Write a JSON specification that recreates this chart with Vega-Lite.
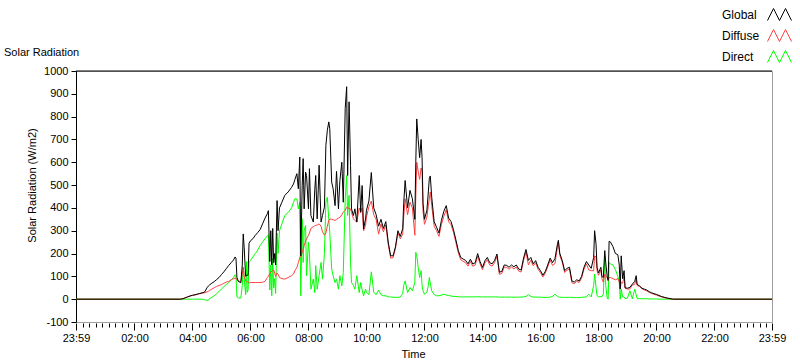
{
"$schema":"https://vega.github.io/schema/vega-lite/v6.json",
"width":696,"height":251,
"autosize":{"type":"none"},
"padding":{"left":76,"top":71,"right":28,"bottom":39},
"background":"white",
"title":{"text":"Solar Radiation","anchor":"start","frame":"group","dx":-72,"dy":56,"offset":0,"font":"Liberation Sans","fontSize":11,"fontWeight":"normal","color":"black"},
"data":{"values":[
{"t":"2020-01-01T23:59:00Z","Global":0,"Diffuse":0,"Direct":0},
{"t":"2020-01-02T03:35:00Z","Global":0,"Diffuse":0,"Direct":0},
{"t":"2020-01-02T03:40:00Z","Global":2,"Diffuse":2,"Direct":0},
{"t":"2020-01-02T03:45:00Z","Global":6,"Diffuse":6,"Direct":0},
{"t":"2020-01-02T03:50:00Z","Global":10,"Diffuse":10,"Direct":0},
{"t":"2020-01-02T03:55:00Z","Global":14,"Diffuse":14,"Direct":0},
{"t":"2020-01-02T04:00:00Z","Global":17,"Diffuse":17,"Direct":0},
{"t":"2020-01-02T04:05:00Z","Global":19,"Diffuse":19,"Direct":0},
{"t":"2020-01-02T04:10:00Z","Global":22,"Diffuse":22,"Direct":0},
{"t":"2020-01-02T04:15:00Z","Global":25,"Diffuse":24,"Direct":0},
{"t":"2020-01-02T04:20:00Z","Global":28,"Diffuse":26,"Direct":0},
{"t":"2020-01-02T04:25:00Z","Global":31,"Diffuse":28,"Direct":-2},
{"t":"2020-01-02T04:30:00Z","Global":50,"Diffuse":32,"Direct":-5},
{"t":"2020-01-02T04:33:00Z","Global":58,"Diffuse":35,"Direct":-4},
{"t":"2020-01-02T04:35:00Z","Global":62,"Diffuse":38,"Direct":2},
{"t":"2020-01-02T04:40:00Z","Global":70,"Diffuse":44,"Direct":8},
{"t":"2020-01-02T04:45:00Z","Global":77,"Diffuse":50,"Direct":15},
{"t":"2020-01-02T04:50:00Z","Global":86,"Diffuse":56,"Direct":24},
{"t":"2020-01-02T04:55:00Z","Global":95,"Diffuse":60,"Direct":34},
{"t":"2020-01-02T05:00:00Z","Global":108,"Diffuse":64,"Direct":45},
{"t":"2020-01-02T05:05:00Z","Global":120,"Diffuse":70,"Direct":55},
{"t":"2020-01-02T05:10:00Z","Global":134,"Diffuse":75,"Direct":64},
{"t":"2020-01-02T05:15:00Z","Global":148,"Diffuse":78,"Direct":72},
{"t":"2020-01-02T05:20:00Z","Global":160,"Diffuse":85,"Direct":84},
{"t":"2020-01-02T05:25:00Z","Global":172,"Diffuse":90,"Direct":95},
{"t":"2020-01-02T05:28:00Z","Global":185,"Diffuse":92,"Direct":107},
{"t":"2020-01-02T05:30:00Z","Global":180,"Diffuse":92,"Direct":100},
{"t":"2020-01-02T05:32:00Z","Global":95,"Diffuse":85,"Direct":10},
{"t":"2020-01-02T05:35:00Z","Global":78,"Diffuse":80,"Direct":5},
{"t":"2020-01-02T05:40:00Z","Global":72,"Diffuse":76,"Direct":5},
{"t":"2020-01-02T05:43:00Z","Global":150,"Diffuse":110,"Direct":60},
{"t":"2020-01-02T05:45:00Z","Global":286,"Diffuse":140,"Direct":140},
{"t":"2020-01-02T05:47:00Z","Global":225,"Diffuse":100,"Direct":90},
{"t":"2020-01-02T05:50:00Z","Global":100,"Diffuse":80,"Direct":20},
{"t":"2020-01-02T05:52:00Z","Global":105,"Diffuse":77,"Direct":165},
{"t":"2020-01-02T05:53:00Z","Global":105,"Diffuse":76,"Direct":30},
{"t":"2020-01-02T05:55:00Z","Global":105,"Diffuse":75,"Direct":40},
{"t":"2020-01-02T05:57:00Z","Global":245,"Diffuse":74,"Direct":160},
{"t":"2020-01-02T06:00:00Z","Global":256,"Diffuse":73,"Direct":170},
{"t":"2020-01-02T06:05:00Z","Global":265,"Diffuse":73,"Direct":185},
{"t":"2020-01-02T06:10:00Z","Global":280,"Diffuse":73,"Direct":200},
{"t":"2020-01-02T06:15:00Z","Global":292,"Diffuse":73,"Direct":215},
{"t":"2020-01-02T06:20:00Z","Global":305,"Diffuse":73,"Direct":235},
{"t":"2020-01-02T06:25:00Z","Global":330,"Diffuse":74,"Direct":250},
{"t":"2020-01-02T06:30:00Z","Global":355,"Diffuse":78,"Direct":265},
{"t":"2020-01-02T06:35:00Z","Global":375,"Diffuse":95,"Direct":278},
{"t":"2020-01-02T06:37:00Z","Global":388,"Diffuse":100,"Direct":282},
{"t":"2020-01-02T06:40:00Z","Global":165,"Diffuse":113,"Direct":40},
{"t":"2020-01-02T06:42:00Z","Global":300,"Diffuse":118,"Direct":150},
{"t":"2020-01-02T06:44:00Z","Global":150,"Diffuse":122,"Direct":15},
{"t":"2020-01-02T06:46:00Z","Global":310,"Diffuse":125,"Direct":180},
{"t":"2020-01-02T06:48:00Z","Global":160,"Diffuse":128,"Direct":50},
{"t":"2020-01-02T06:50:00Z","Global":200,"Diffuse":115,"Direct":90},
{"t":"2020-01-02T06:52:00Z","Global":150,"Diffuse":100,"Direct":25},
{"t":"2020-01-02T06:55:00Z","Global":432,"Diffuse":115,"Direct":290},
{"t":"2020-01-02T06:57:00Z","Global":300,"Diffuse":110,"Direct":200},
{"t":"2020-01-02T07:00:00Z","Global":400,"Diffuse":95,"Direct":300},
{"t":"2020-01-02T07:05:00Z","Global":425,"Diffuse":90,"Direct":330},
{"t":"2020-01-02T07:11:00Z","Global":455,"Diffuse":88,"Direct":367},
{"t":"2020-01-02T07:18:00Z","Global":470,"Diffuse":95,"Direct":380},
{"t":"2020-01-02T07:25:00Z","Global":490,"Diffuse":103,"Direct":400},
{"t":"2020-01-02T07:29:00Z","Global":505,"Diffuse":110,"Direct":425},
{"t":"2020-01-02T07:32:00Z","Global":525,"Diffuse":125,"Direct":440},
{"t":"2020-01-02T07:36:00Z","Global":550,"Diffuse":139,"Direct":440},
{"t":"2020-01-02T07:39:00Z","Global":484,"Diffuse":160,"Direct":396},
{"t":"2020-01-02T07:42:00Z","Global":623,"Diffuse":183,"Direct":425},
{"t":"2020-01-02T07:44:00Z","Global":190,"Diffuse":190,"Direct":15},
{"t":"2020-01-02T07:47:00Z","Global":498,"Diffuse":205,"Direct":352},
{"t":"2020-01-02T07:49:00Z","Global":616,"Diffuse":220,"Direct":161},
{"t":"2020-01-02T07:51:00Z","Global":396,"Diffuse":235,"Direct":300},
{"t":"2020-01-02T07:54:00Z","Global":557,"Diffuse":255,"Direct":323},
{"t":"2020-01-02T07:56:00Z","Global":542,"Diffuse":264,"Direct":103},
{"t":"2020-01-02T08:00:00Z","Global":396,"Diffuse":280,"Direct":249},
{"t":"2020-01-02T08:02:00Z","Global":572,"Diffuse":290,"Direct":200},
{"t":"2020-01-02T08:05:00Z","Global":367,"Diffuse":310,"Direct":44},
{"t":"2020-01-02T08:10:00Z","Global":338,"Diffuse":318,"Direct":88},
{"t":"2020-01-02T08:13:00Z","Global":480,"Diffuse":322,"Direct":29},
{"t":"2020-01-02T08:15:00Z","Global":542,"Diffuse":323,"Direct":147},
{"t":"2020-01-02T08:18:00Z","Global":352,"Diffuse":325,"Direct":44},
{"t":"2020-01-02T08:22:00Z","Global":587,"Diffuse":330,"Direct":103},
{"t":"2020-01-02T08:26:00Z","Global":338,"Diffuse":320,"Direct":161},
{"t":"2020-01-02T08:29:00Z","Global":367,"Diffuse":295,"Direct":88},
{"t":"2020-01-02T08:33:00Z","Global":403,"Diffuse":280,"Direct":200},
{"t":"2020-01-02T08:36:00Z","Global":674,"Diffuse":290,"Direct":425},
{"t":"2020-01-02T08:39:00Z","Global":740,"Diffuse":320,"Direct":447},
{"t":"2020-01-02T08:42:00Z","Global":777,"Diffuse":345,"Direct":350},
{"t":"2020-01-02T08:44:00Z","Global":748,"Diffuse":352,"Direct":293},
{"t":"2020-01-02T08:48:00Z","Global":513,"Diffuse":350,"Direct":132},
{"t":"2020-01-02T08:51:00Z","Global":484,"Diffuse":348,"Direct":103},
{"t":"2020-01-02T08:55:00Z","Global":410,"Diffuse":345,"Direct":73},
{"t":"2020-01-02T08:58:00Z","Global":560,"Diffuse":350,"Direct":88},
{"t":"2020-01-02T09:02:00Z","Global":396,"Diffuse":355,"Direct":44},
{"t":"2020-01-02T09:05:00Z","Global":520,"Diffuse":359,"Direct":103},
{"t":"2020-01-02T09:09:00Z","Global":600,"Diffuse":370,"Direct":58},
{"t":"2020-01-02T09:12:00Z","Global":425,"Diffuse":381,"Direct":117},
{"t":"2020-01-02T09:16:00Z","Global":836,"Diffuse":390,"Direct":440},
{"t":"2020-01-02T09:19:00Z","Global":931,"Diffuse":403,"Direct":542},
{"t":"2020-01-02T09:21:00Z","Global":542,"Diffuse":400,"Direct":367},
{"t":"2020-01-02T09:24:00Z","Global":865,"Diffuse":398,"Direct":455},
{"t":"2020-01-02T09:27:00Z","Global":587,"Diffuse":396,"Direct":161},
{"t":"2020-01-02T09:29:00Z","Global":396,"Diffuse":380,"Direct":73},
{"t":"2020-01-02T09:33:00Z","Global":367,"Diffuse":352,"Direct":60},
{"t":"2020-01-02T09:36:00Z","Global":396,"Diffuse":345,"Direct":44},
{"t":"2020-01-02T09:40:00Z","Global":338,"Diffuse":338,"Direct":103},
{"t":"2020-01-02T09:45:00Z","Global":542,"Diffuse":400,"Direct":29},
{"t":"2020-01-02T09:48:00Z","Global":381,"Diffuse":380,"Direct":73},
{"t":"2020-01-02T09:51:00Z","Global":498,"Diffuse":400,"Direct":40},
{"t":"2020-01-02T09:54:00Z","Global":308,"Diffuse":300,"Direct":15},
{"t":"2020-01-02T09:58:00Z","Global":352,"Diffuse":323,"Direct":44},
{"t":"2020-01-02T10:00:00Z","Global":390,"Diffuse":360,"Direct":30},
{"t":"2020-01-02T10:05:00Z","Global":430,"Diffuse":405,"Direct":20},
{"t":"2020-01-02T10:10:00Z","Global":555,"Diffuse":430,"Direct":120},
{"t":"2020-01-02T10:15:00Z","Global":400,"Diffuse":370,"Direct":30},
{"t":"2020-01-02T10:20:00Z","Global":370,"Diffuse":350,"Direct":20},
{"t":"2020-01-02T10:25:00Z","Global":320,"Diffuse":285,"Direct":40},
{"t":"2020-01-02T10:30:00Z","Global":350,"Diffuse":330,"Direct":20},
{"t":"2020-01-02T10:35:00Z","Global":310,"Diffuse":295,"Direct":15},
{"t":"2020-01-02T10:40:00Z","Global":340,"Diffuse":325,"Direct":15},
{"t":"2020-01-02T10:45:00Z","Global":250,"Diffuse":240,"Direct":10},
{"t":"2020-01-02T10:50:00Z","Global":190,"Diffuse":180,"Direct":10},
{"t":"2020-01-02T10:55:00Z","Global":190,"Diffuse":182,"Direct":8},
{"t":"2020-01-02T11:00:00Z","Global":230,"Diffuse":222,"Direct":8},
{"t":"2020-01-02T11:05:00Z","Global":300,"Diffuse":290,"Direct":8},
{"t":"2020-01-02T11:10:00Z","Global":275,"Diffuse":265,"Direct":10},
{"t":"2020-01-02T11:15:00Z","Global":310,"Diffuse":285,"Direct":25},
{"t":"2020-01-02T11:17:00Z","Global":420,"Diffuse":360,"Direct":60},
{"t":"2020-01-02T11:20:00Z","Global":520,"Diffuse":440,"Direct":80},
{"t":"2020-01-02T11:25:00Z","Global":400,"Diffuse":370,"Direct":29},
{"t":"2020-01-02T11:30:00Z","Global":477,"Diffuse":425,"Direct":51},
{"t":"2020-01-02T11:35:00Z","Global":440,"Diffuse":400,"Direct":37},
{"t":"2020-01-02T11:40:00Z","Global":350,"Diffuse":280,"Direct":73},
{"t":"2020-01-02T11:42:00Z","Global":600,"Diffuse":450,"Direct":205},
{"t":"2020-01-02T11:44:00Z","Global":790,"Diffuse":600,"Direct":190},
{"t":"2020-01-02T11:47:00Z","Global":700,"Diffuse":560,"Direct":140},
{"t":"2020-01-02T11:50:00Z","Global":620,"Diffuse":525,"Direct":95},
{"t":"2020-01-02T11:53:00Z","Global":700,"Diffuse":575,"Direct":125},
{"t":"2020-01-02T11:55:00Z","Global":620,"Diffuse":560,"Direct":60},
{"t":"2020-01-02T11:57:00Z","Global":420,"Diffuse":385,"Direct":37},
{"t":"2020-01-02T12:00:00Z","Global":350,"Diffuse":328,"Direct":22},
{"t":"2020-01-02T12:05:00Z","Global":390,"Diffuse":360,"Direct":30},
{"t":"2020-01-02T12:08:00Z","Global":470,"Diffuse":410,"Direct":60},
{"t":"2020-01-02T12:10:00Z","Global":530,"Diffuse":440,"Direct":95},
{"t":"2020-01-02T12:12:00Z","Global":540,"Diffuse":470,"Direct":70},
{"t":"2020-01-02T12:15:00Z","Global":447,"Diffuse":410,"Direct":37},
{"t":"2020-01-02T12:20:00Z","Global":340,"Diffuse":320,"Direct":20},
{"t":"2020-01-02T12:25:00Z","Global":315,"Diffuse":300,"Direct":15},
{"t":"2020-01-02T12:30:00Z","Global":290,"Diffuse":275,"Direct":15},
{"t":"2020-01-02T12:35:00Z","Global":345,"Diffuse":327,"Direct":18},
{"t":"2020-01-02T12:40:00Z","Global":385,"Diffuse":363,"Direct":22},
{"t":"2020-01-02T12:45:00Z","Global":410,"Diffuse":392,"Direct":18},
{"t":"2020-01-02T12:50:00Z","Global":355,"Diffuse":339,"Direct":16},
{"t":"2020-01-02T12:55:00Z","Global":340,"Diffuse":326,"Direct":14},
{"t":"2020-01-02T13:00:00Z","Global":305,"Diffuse":293,"Direct":12},
{"t":"2020-01-02T13:05:00Z","Global":260,"Diffuse":248,"Direct":12},
{"t":"2020-01-02T13:10:00Z","Global":213,"Diffuse":203,"Direct":10},
{"t":"2020-01-02T13:15:00Z","Global":183,"Diffuse":173,"Direct":10},
{"t":"2020-01-02T13:20:00Z","Global":176,"Diffuse":166,"Direct":10},
{"t":"2020-01-02T13:25:00Z","Global":170,"Diffuse":160,"Direct":10},
{"t":"2020-01-02T13:30:00Z","Global":155,"Diffuse":145,"Direct":10},
{"t":"2020-01-02T13:35:00Z","Global":175,"Diffuse":165,"Direct":10},
{"t":"2020-01-02T13:40:00Z","Global":154,"Diffuse":144,"Direct":10},
{"t":"2020-01-02T13:45:00Z","Global":160,"Diffuse":150,"Direct":10},
{"t":"2020-01-02T13:50:00Z","Global":200,"Diffuse":189,"Direct":11},
{"t":"2020-01-02T13:55:00Z","Global":165,"Diffuse":155,"Direct":10},
{"t":"2020-01-02T14:00:00Z","Global":139,"Diffuse":129,"Direct":10},
{"t":"2020-01-02T14:05:00Z","Global":168,"Diffuse":158,"Direct":10},
{"t":"2020-01-02T14:10:00Z","Global":183,"Diffuse":173,"Direct":10},
{"t":"2020-01-02T14:15:00Z","Global":160,"Diffuse":150,"Direct":10},
{"t":"2020-01-02T14:20:00Z","Global":155,"Diffuse":145,"Direct":10},
{"t":"2020-01-02T14:25:00Z","Global":170,"Diffuse":160,"Direct":10},
{"t":"2020-01-02T14:30:00Z","Global":198,"Diffuse":188,"Direct":10},
{"t":"2020-01-02T14:35:00Z","Global":118,"Diffuse":109,"Direct":9},
{"t":"2020-01-02T14:40:00Z","Global":122,"Diffuse":113,"Direct":9},
{"t":"2020-01-02T14:45:00Z","Global":150,"Diffuse":141,"Direct":9},
{"t":"2020-01-02T14:50:00Z","Global":148,"Diffuse":139,"Direct":9},
{"t":"2020-01-02T14:55:00Z","Global":140,"Diffuse":131,"Direct":9},
{"t":"2020-01-02T15:00:00Z","Global":150,"Diffuse":141,"Direct":9},
{"t":"2020-01-02T15:05:00Z","Global":142,"Diffuse":133,"Direct":9},
{"t":"2020-01-02T15:10:00Z","Global":150,"Diffuse":141,"Direct":9},
{"t":"2020-01-02T15:15:00Z","Global":132,"Diffuse":123,"Direct":9},
{"t":"2020-01-02T15:20:00Z","Global":128,"Diffuse":119,"Direct":9},
{"t":"2020-01-02T15:25:00Z","Global":180,"Diffuse":170,"Direct":10},
{"t":"2020-01-02T15:30:00Z","Global":218,"Diffuse":206,"Direct":12},
{"t":"2020-01-02T15:35:00Z","Global":170,"Diffuse":150,"Direct":20},
{"t":"2020-01-02T15:40:00Z","Global":183,"Diffuse":171,"Direct":12},
{"t":"2020-01-02T15:45:00Z","Global":155,"Diffuse":146,"Direct":9},
{"t":"2020-01-02T15:50:00Z","Global":169,"Diffuse":160,"Direct":9},
{"t":"2020-01-02T15:55:00Z","Global":140,"Diffuse":131,"Direct":9},
{"t":"2020-01-02T16:00:00Z","Global":125,"Diffuse":116,"Direct":9},
{"t":"2020-01-02T16:05:00Z","Global":105,"Diffuse":97,"Direct":8},
{"t":"2020-01-02T16:10:00Z","Global":122,"Diffuse":114,"Direct":8},
{"t":"2020-01-02T16:15:00Z","Global":150,"Diffuse":142,"Direct":8},
{"t":"2020-01-02T16:20:00Z","Global":180,"Diffuse":171,"Direct":9},
{"t":"2020-01-02T16:25:00Z","Global":160,"Diffuse":148,"Direct":12},
{"t":"2020-01-02T16:30:00Z","Global":178,"Diffuse":156,"Direct":22},
{"t":"2020-01-02T16:35:00Z","Global":240,"Diffuse":228,"Direct":12},
{"t":"2020-01-02T16:37:00Z","Global":258,"Diffuse":248,"Direct":10},
{"t":"2020-01-02T16:40:00Z","Global":200,"Diffuse":191,"Direct":9},
{"t":"2020-01-02T16:45:00Z","Global":170,"Diffuse":162,"Direct":8},
{"t":"2020-01-02T16:50:00Z","Global":125,"Diffuse":117,"Direct":8},
{"t":"2020-01-02T16:55:00Z","Global":135,"Diffuse":127,"Direct":8},
{"t":"2020-01-02T17:00:00Z","Global":140,"Diffuse":132,"Direct":8},
{"t":"2020-01-02T17:05:00Z","Global":80,"Diffuse":72,"Direct":8},
{"t":"2020-01-02T17:10:00Z","Global":75,"Diffuse":68,"Direct":7},
{"t":"2020-01-02T17:15:00Z","Global":85,"Diffuse":78,"Direct":7},
{"t":"2020-01-02T17:20:00Z","Global":80,"Diffuse":73,"Direct":7},
{"t":"2020-01-02T17:25:00Z","Global":100,"Diffuse":92,"Direct":8},
{"t":"2020-01-02T17:30:00Z","Global":140,"Diffuse":131,"Direct":9},
{"t":"2020-01-02T17:35:00Z","Global":165,"Diffuse":155,"Direct":10},
{"t":"2020-01-02T17:40:00Z","Global":150,"Diffuse":128,"Direct":22},
{"t":"2020-01-02T17:45:00Z","Global":135,"Diffuse":125,"Direct":10},
{"t":"2020-01-02T17:50:00Z","Global":183,"Diffuse":125,"Direct":60},
{"t":"2020-01-02T17:52:00Z","Global":300,"Diffuse":190,"Direct":110},
{"t":"2020-01-02T17:55:00Z","Global":240,"Diffuse":185,"Direct":50},
{"t":"2020-01-02T17:57:00Z","Global":140,"Diffuse":125,"Direct":15},
{"t":"2020-01-02T18:00:00Z","Global":115,"Diffuse":105,"Direct":10},
{"t":"2020-01-02T18:05:00Z","Global":140,"Diffuse":128,"Direct":12},
{"t":"2020-01-02T18:07:00Z","Global":100,"Diffuse":90,"Direct":10},
{"t":"2020-01-02T18:10:00Z","Global":95,"Diffuse":75,"Direct":22},
{"t":"2020-01-02T18:13:00Z","Global":213,"Diffuse":110,"Direct":190},
{"t":"2020-01-02T18:15:00Z","Global":160,"Diffuse":100,"Direct":60},
{"t":"2020-01-02T18:18:00Z","Global":100,"Diffuse":95,"Direct":5},
{"t":"2020-01-02T18:20:00Z","Global":82,"Diffuse":82,"Direct":0},
{"t":"2020-01-02T18:22:00Z","Global":254,"Diffuse":95,"Direct":161},
{"t":"2020-01-02T18:25:00Z","Global":250,"Diffuse":95,"Direct":155},
{"t":"2020-01-02T18:30:00Z","Global":230,"Diffuse":90,"Direct":150},
{"t":"2020-01-02T18:35:00Z","Global":200,"Diffuse":85,"Direct":130},
{"t":"2020-01-02T18:40:00Z","Global":195,"Diffuse":90,"Direct":100},
{"t":"2020-01-02T18:43:00Z","Global":150,"Diffuse":75,"Direct":80},
{"t":"2020-01-02T18:45:00Z","Global":45,"Diffuse":45,"Direct":0},
{"t":"2020-01-02T18:47:00Z","Global":190,"Diffuse":75,"Direct":44},
{"t":"2020-01-02T18:50:00Z","Global":90,"Diffuse":70,"Direct":10},
{"t":"2020-01-02T18:53:00Z","Global":125,"Diffuse":100,"Direct":10},
{"t":"2020-01-02T18:55:00Z","Global":50,"Diffuse":48,"Direct":2},
{"t":"2020-01-02T19:00:00Z","Global":48,"Diffuse":44,"Direct":5},
{"t":"2020-01-02T19:05:00Z","Global":52,"Diffuse":45,"Direct":37},
{"t":"2020-01-02T19:10:00Z","Global":66,"Diffuse":62,"Direct":2},
{"t":"2020-01-02T19:15:00Z","Global":78,"Diffuse":65,"Direct":44},
{"t":"2020-01-02T19:18:00Z","Global":103,"Diffuse":85,"Direct":20},
{"t":"2020-01-02T19:20:00Z","Global":65,"Diffuse":60,"Direct":3},
{"t":"2020-01-02T19:25:00Z","Global":58,"Diffuse":55,"Direct":2},
{"t":"2020-01-02T19:30:00Z","Global":48,"Diffuse":46,"Direct":2},
{"t":"2020-01-02T19:35:00Z","Global":44,"Diffuse":40,"Direct":2},
{"t":"2020-01-02T19:40:00Z","Global":40,"Diffuse":36,"Direct":2},
{"t":"2020-01-02T19:45:00Z","Global":33,"Diffuse":30,"Direct":1},
{"t":"2020-01-02T19:50:00Z","Global":28,"Diffuse":25,"Direct":1},
{"t":"2020-01-02T19:55:00Z","Global":24,"Diffuse":21,"Direct":1},
{"t":"2020-01-02T20:00:00Z","Global":21,"Diffuse":18,"Direct":1},
{"t":"2020-01-02T20:10:00Z","Global":12,"Diffuse":10,"Direct":0},
{"t":"2020-01-02T20:20:00Z","Global":6,"Diffuse":5,"Direct":0},
{"t":"2020-01-02T20:30:00Z","Global":2,"Diffuse":1,"Direct":0},
{"t":"2020-01-02T20:35:00Z","Global":0,"Diffuse":0,"Direct":0},
{"t":"2020-01-02T23:59:00Z","Global":0,"Diffuse":0,"Direct":0}
]},
"layer":[
{"transform":[{"fold":["Direct","Diffuse","Global"],"as":["series","value"]}],
 "mark":{"type":"line","strokeWidth":1,"interpolate":"linear"},
 "encoding":{
  "x":{"field":"t","type":"temporal","title":"Time",
    "scale":{"type":"utc","domain":[1577923140000,1578009540000]},
    "axis":{"values":[1577923140000,1577924000000,1577924800000,1577925600000,1577926400000,1577927200000,1577928000000,1577928800000,1577929600000,1577930400000,1577931200000,1577932000000,1577932800000,1577933600000,1577934400000,1577935200000,1577936000000,1577936800000,1577937600000,1577938400000,1577939200000,1577940000000,1577940800000,1577941600000,1577942400000,1577943200000,1577944000000,1577944800000,1577945600000,1577946400000,1577947200000,1577948000000,1577948800000,1577949600000,1577950400000,1577951200000,1577952000000,1577952800000,1577953600000,1577954400000,1577955200000,1577956000000,1577956800000,1577957600000,1577958400000,1577959200000,1577960000000,1577960800000,1577961600000,1577962400000,1577963200000,1577964000000,1577964800000,1577965600000,1577966400000,1577967200000,1577968000000,1577968800000,1577969600000,1577970400000,1577971200000,1577972000000,1577972800000,1577973600000,1577974400000,1577975200000,1577976000000,1577976800000,1577977600000,1577978400000,1577979200000,1577980000000,1577980800000,1577981600000,1577982400000,1577983200000,1577984000000,1577984800000,1577985600000,1577986400000,1577987200000,1577988000000,1577988800000,1577989600000,1577990400000,1577991200000,1577992000000,1577992800000,1577993600000,1577994400000,1577995200000,1577996000000,1577996800000,1577997600000,1577998400000,1577999200000,1578000000000,1578000800000,1578001600000,1578002400000,1578003200000,1578004000000,1578004800000,1578005600000,1578006400000,1578007200000,1578008000000,1578008800000,1578009540000],
      "labelExpr":"((datum.value - 1577923200000) % 7200000 == 0 || datum.value < 1577923200000 || datum.value > 1578009000000) ? utcFormat(datum.value, '%H:%M') : ''",
      "tickSize":{"condition":{"test":"(datum.value - 1577923200000) % 7200000 == 0 || datum.value < 1577923200000 || datum.value > 1578009000000","value":7},"value":4},
      "tickColor":"black","domain":false,"offset":1,"grid":false,
      "labelFont":"Liberation Sans","labelFontSize":11,"labelColor":"black","labelPadding":2,"labelOverlap":false,"labelFlush":false,"labelBound":false,
      "titleFont":"Liberation Sans","titleFontSize":11,"titleFontWeight":"normal","titleColor":"black","titleX":337,"titleY":34,"titleBaseline":"alphabetic"}},
  "y":{"field":"value","type":"quantitative","title":"Solar Radiation (W/m2)",
    "scale":{"domain":[-100,1000],"nice":false,"zero":false},
    "axis":{"values":[-100,0,100,200,300,400,500,600,700,800,900,1000],"labelExpr":"'' + datum.value","tickSize":5,"tickColor":"black","domain":true,"domainColor":"black","domainWidth":1,"offset":0,"grid":false,
      "labelFont":"Liberation Sans","labelFontSize":11,"labelColor":"black","labelPadding":3,"labelFlush":false,"labelOverlap":false,
      "titleFont":"Liberation Sans","titleFontSize":11,"titleFontWeight":"normal","titleColor":"black","titleX":-39,"titleY":114}},
  "color":{"field":"series","type":"nominal",
    "scale":{"domain":["Global","Diffuse","Direct"],"range":["#000000","#ff4040","#00ff00"]},
    "legend":{"orient":"none","legendX":691,"legendY":-69,"title":null,"direction":"vertical",
      "symbolType":"M-1,0.5L-0.5,-0.5L0,0.5L0.5,-0.5L1,0.5","symbolSize":576,"symbolStrokeWidth":1,
      "labelFont":"Liberation Sans","labelFontSize":12,"labelColor":"black","labelAlign":"left","labelOffset":-70,
      "rowPadding":0,"padding":0}}
 }},
{"data":{"values":[{}]},"mark":{"type":"rule","color":"black","strokeWidth":1},
 "encoding":{"y":{"datum":1000,"type":"quantitative","title":"Solar Radiation (W/m2)",
    "axis":{"values":[-100,0,100,200,300,400,500,600,700,800,900,1000],"labelExpr":"'' + datum.value","tickSize":5,"tickColor":"black","domain":true,"domainColor":"black","domainWidth":1,"offset":0,"grid":false,
      "labelFont":"Liberation Sans","labelFontSize":11,"labelColor":"black","labelPadding":3,"labelFlush":false,"labelOverlap":false,
      "titleFont":"Liberation Sans","titleFontSize":11,"titleFontWeight":"normal","titleColor":"black","titleX":-39,"titleY":114}}}}
],
"config":{"view":{"stroke":"#a0a0a0","strokeWidth":1},"font":"Liberation Sans"}
}
